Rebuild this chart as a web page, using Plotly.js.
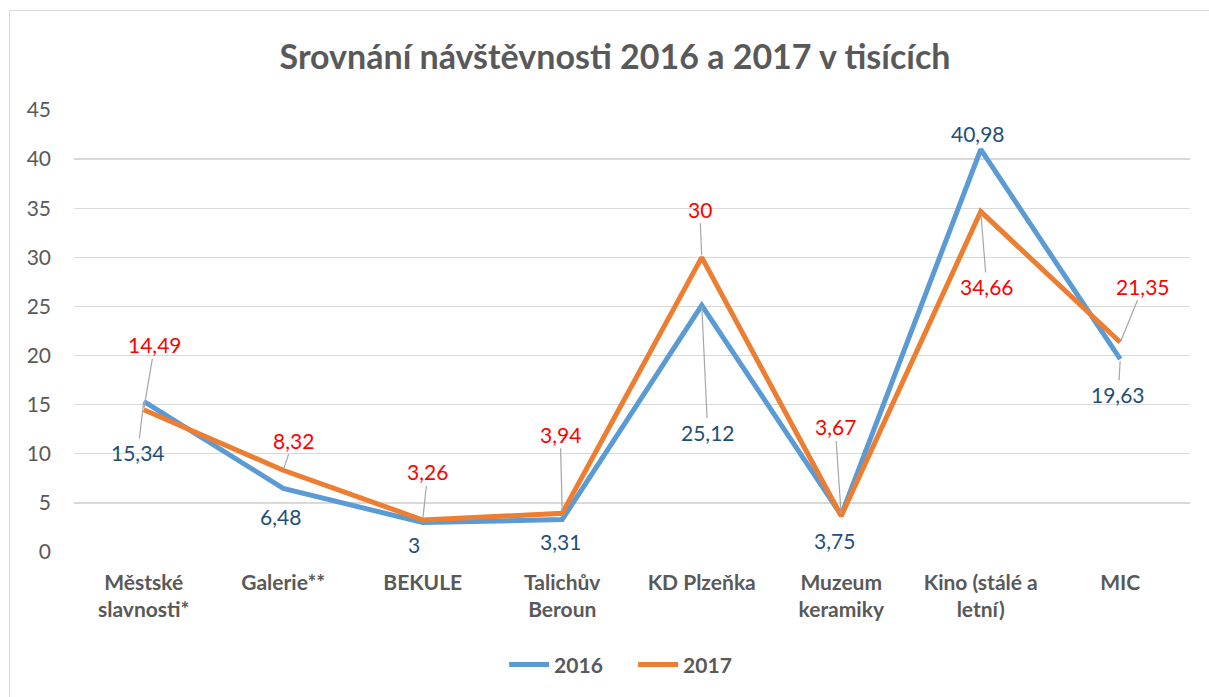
<!DOCTYPE html>
<html>
<head>
<meta charset="utf-8">
<script src="https://cdn.plot.ly/plotly-3.0.1.min.js"></script>
<style>
  html, body { margin: 0; padding: 0; background: #ffffff; }
  #wrap { position: relative; width: 1209px; height: 697px; overflow: hidden; }
  #frame { position: absolute; left: 9px; top: 10px; width: 1300px; height: 800px;
           border-top: 1px solid #d9d9d9; border-left: 1px solid #d9d9d9; }
  #chart { position: absolute; left: 0; top: 0; width: 1209px; height: 697px; }
</style>
</head>
<body>
<div id="wrap">
  <div id="frame"></div>
  <div id="chart"></div>
</div>
<script>
const categories = ["Městské<br>slavnosti*", "Galerie**", "BEKULE", "Talichův<br>Beroun",
                    "KD Plzeňka", "Muzeum<br>keramiky", "Kino (stálé a<br>letní)", "MIC"];
const values2016 = [15.34, 6.48, 3, 3.31, 25.12, 3.75, 40.98, 19.63];
const values2017 = [14.49, 8.32, 3.26, 3.94, 30, 3.67, 34.66, 21.35];
const seriesNames = ["2016", "2017"];
const yTicks = [0, 5, 10, 15, 20, 25, 30, 35, 40, 45];

// label placement offsets (pixels) and whether a leader line is drawn
const lbl2016 = [
  {ax: -6, ay: 51, lead: true}, {ax: -3, ay: 28, lead: false}, {ax: -9, ay: 22, lead: false},
  {ax: -2, ay: 22, lead: false}, {ax: 6, ay: 127, lead: true}, {ax: -7, ay: 25, lead: false},
  {ax: -3, ay: -16, lead: false}, {ax: -2, ay: 35, lead: true}
];
const lbl2017 = [
  {ax: 11, ay: -65, lead: true}, {ax: 10, ay: -30, lead: true}, {ax: 5, ay: -48, lead: true},
  {ax: -2, ay: -79, lead: true}, {ax: -2, ay: -48, lead: true}, {ax: -6, ay: -89, lead: true},
  {ax: 6, ay: 75, lead: true}, {ax: 23, ay: -56, lead: true}
];

const FONT = "Lato, 'Open Sans', sans-serif";
const fmt = v => String(v).replace('.', ',');

function makeAnn(cat, v, o, color) {
  const base = {
    x: cat, y: v, xref: 'x', yref: 'y', text: fmt(v),
    font: {family: FONT, size: 21, color: color}
  };
  if (o.lead) {
    return Object.assign(base, {showarrow: true, ax: o.ax, ay: o.ay, axref: 'pixel', ayref: 'pixel',
      arrowhead: 0, arrowwidth: 1.2, arrowcolor: '#a6a6a6', standoff: 2, startstandoff: 0});
  }
  return Object.assign(base, {showarrow: false, xshift: o.ax, yshift: -o.ay});
}

const annotations = [];
categories.forEach((c, i) => {
  annotations.push(makeAnn(c, values2016[i], lbl2016[i], '#1F4E79'));
  annotations.push(makeAnn(c, values2017[i], lbl2017[i], '#FF0000'));
});

const traces = [
  {x: categories, y: values2016, name: seriesNames[0], type: 'scatter', mode: 'lines',
   line: {color: '#5B9BD5', width: 5}},
  {x: categories, y: values2017, name: seriesNames[1], type: 'scatter', mode: 'lines',
   line: {color: '#ED7D31', width: 5}}
];

const layout = {
  width: 1209, height: 697,
  paper_bgcolor: 'rgba(0,0,0,0)', plot_bgcolor: 'rgba(0,0,0,0)',
  margin: {l: 74, r: 19, t: 110, b: 145},
  title: {text: '<b>Srovnání návštěvnosti 2016 a 2017 v tisících</b>',
          font: {family: FONT, size: 34, color: '#595959'},
          x: 0.4848, xref: 'paper', xanchor: 'center', y: 0.918, yref: 'container', yanchor: 'middle'},
  xaxis: {type: 'category', showgrid: false, zeroline: false, showline: false, ticks: '',
          tickfont: {family: FONT, size: 21, color: '#595959', weight: 'bold'},
          ticklabelstandoff: 16, range: [-0.5, categories.length - 0.5], fixedrange: true},
  yaxis: {range: [0, 45], tickvals: yTicks, ticktext: yTicks.map(String),
          showgrid: true, gridcolor: '#d9d9d9', gridwidth: 1.3, zeroline: false, showline: false,
          ticks: '', ticklabelstandoff: 22,
          tickfont: {family: FONT, size: 21, color: '#595959'}, fixedrange: true},
  showlegend: true,
  legend: {orientation: 'h', x: 0.501, xanchor: 'center', y: 0.046, yref: 'container',
           yanchor: 'middle', font: {family: FONT, size: 21, color: '#595959', weight: 'bold'},
           itemwidth: 40, entrywidth: 74, tracegroupgap: 20},
  annotations: annotations
};

Plotly.newPlot('chart', traces, layout, {displayModeBar: false, staticPlot: true});
</script>
</body>
</html>
